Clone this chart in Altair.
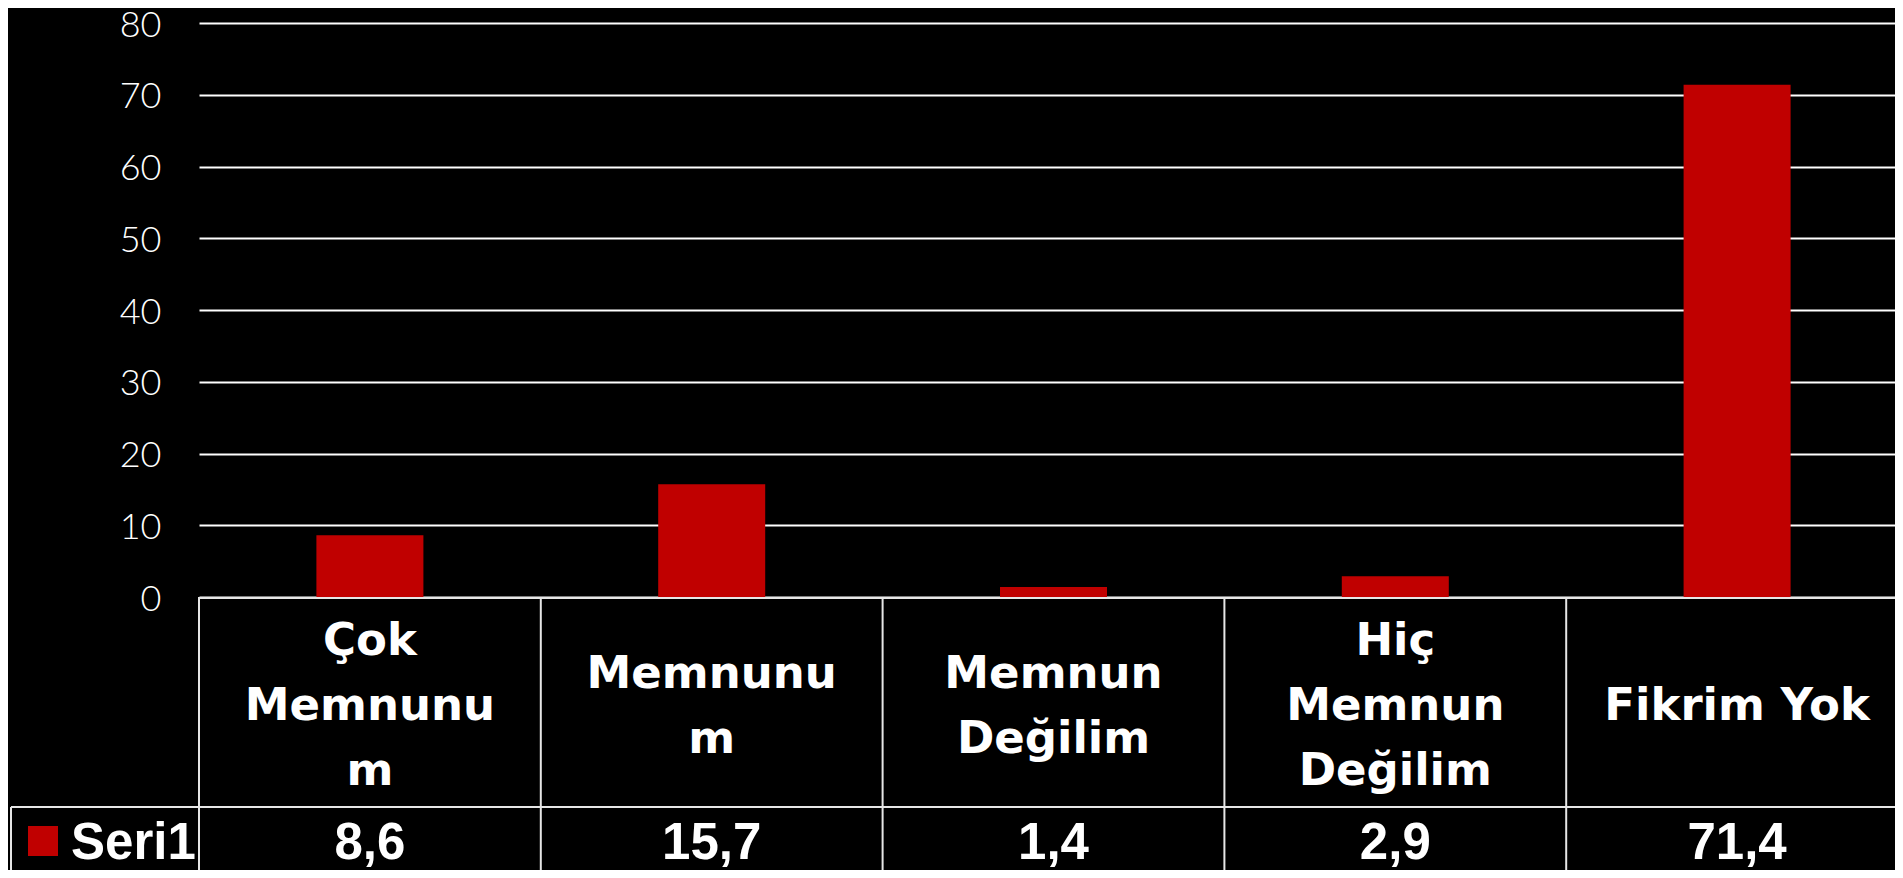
import altair as alt
import pandas as pd

# ---- data ----
categories = ["Çok Memnunum", "Memnunum", "Memnun Değilim", "Hiç Memnun Değilim", "Fikrim Yok"]
header_lines = ["Çok\nMemnunu\nm", "Memnunu\nm", "Memnun\nDeğilim", "Hiç\nMemnun\nDeğilim", "Fikrim Yok"]
values = [8.6, 15.7, 1.4, 2.9, 71.4]
value_labels = ["8,6", "15,7", "1,4", "2,9", "71,4"]
series_name = "Seri1"
y_ticks = [0, 10, 20, 30, 40, 50, 60, 70, 80]

df = pd.DataFrame({"cat": categories, "header": header_lines,
                   "value": values, "label": value_labels})
one = pd.DataFrame({"a": [0]})

W, H = 1696, 574
RED = "#c00000"
LINE = "#e6e6e6"
FULL = 1709
ROW = 784  # row separator, relative to plot top

xscale = alt.Scale(domain=categories, range=[0, FULL], paddingInner=0, paddingOuter=0)
X = alt.X("cat:N", scale=xscale, axis=None, sort=categories)

bars = alt.Chart(df).mark_bar(size=107, color=RED).encode(
    x=X,
    y=alt.Y("value:Q", scale=alt.Scale(domain=[0, 80], nice=False),
            axis=alt.Axis(values=y_ticks, grid=True, gridColor="white", gridWidth=2,
                          domain=False, ticks=False, tickSize=0, labelColor="white",
                          labelFont="Lato", labelFontWeight=300, labelFontSize=36,
                          labelOffset=2, labelPadding=38, title=None)),
)

# table lines
col_borders = alt.Chart(df).mark_rule(color=LINE, strokeWidth=2).encode(
    x=alt.X("cat:N", scale=xscale, axis=None, sort=categories, bandPosition=0),
    y=alt.value(H), y2=alt.value(H + 300))
top_line = alt.Chart(one).mark_rule(color=LINE, strokeWidth=2).encode(
    x=alt.value(0), x2=alt.value(FULL), y=alt.value(H + 1))
row_line = alt.Chart(one).mark_rule(color=LINE, strokeWidth=2).encode(
    x=alt.value(-188), x2=alt.value(FULL), y=alt.value(ROW))
left_line = alt.Chart(one).mark_rule(color=LINE, strokeWidth=2).encode(
    x=alt.value(-188), y=alt.value(ROW), y2=alt.value(H + 300))

# category headers, vertically centred by number of lines
header_base = alt.Chart(df).transform_calculate(
    nl="length(split(datum.header, '\\n'))"
).mark_text(font="DejaVu Sans", fontWeight="bold", fontSize=45, color="white",
            lineBreak="\n", lineHeight=65, baseline="alphabetic", align="center")
header_layers = [
    header_base.transform_filter(f"datum.nl == {n}").encode(
        x=X, y=alt.value(697 - (n - 1) * 32.5), text="header:N")
    for n in (1, 2, 3)
]

vals = alt.Chart(df).mark_text(font="Liberation Sans", fontWeight="bold", fontSize=51,
                               color="white", baseline="alphabetic", align="center").encode(
    x=X, y=alt.value(836), text="label:N")

legend_sq = alt.Chart(one).mark_square(size=900, color=RED, opacity=1, filled=True).encode(
    x=alt.value(-156), y=alt.value(818))
legend_txt = alt.Chart(one).mark_text(font="Liberation Sans", fontWeight="bold", fontSize=51,
                                      color="white", baseline="alphabetic", align="left").encode(
    x=alt.value(-128), y=alt.value(836), text=alt.value(series_name))

chart = alt.layer(bars, col_borders, top_line, row_line, left_line, *header_layers, vals,
                  legend_sq, legend_txt).properties(
    width=W, height=H,
    padding={"left": 191, "top": 15, "right": 0, "bottom": 273},
    autosize=alt.AutoSizeParams(type="none"),
    background="black",
).configure_view(stroke=None)

chart.save("out.html", embed_options={"renderer": "svg", "actions": False})
